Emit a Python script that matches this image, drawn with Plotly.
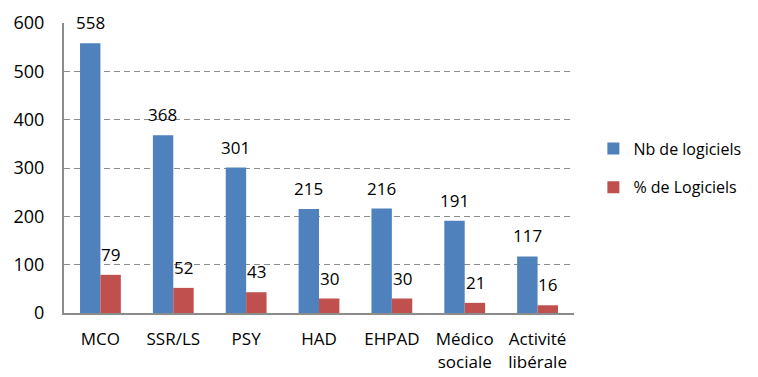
import plotly.graph_objects as go

categories = ["MCO", "SSR/LS", "PSY", "HAD", "EHPAD", "Médico<br>sociale", "Activité<br>libérale"]
nb_logiciels = [558, 368, 301, 215, 216, 191, 117]
pct_logiciels = [79, 52, 43, 30, 30, 21, 16]

FONT = "Open Sans, Noto Sans, sans-serif"
BAR_OFFSET = 10.3  # half of one bar's pixel width inside a group

fig = go.Figure()
fig.add_trace(go.Bar(
    x=categories, y=nb_logiciels, name="Nb de logiciels",
    marker=dict(color="#4F81BD", line=dict(width=0)),
    legendgroup="a",
))
fig.add_trace(go.Bar(
    x=categories, y=pct_logiciels, name="% de Logiciels",
    marker=dict(color="#C0504D", line=dict(width=0)),
    legendgroup="b",
))

# value labels sitting above each bar
for cat, v1, v2 in zip(categories, nb_logiciels, pct_logiciels):
    for val, shift in ((v1, -BAR_OFFSET), (v2, BAR_OFFSET)):
        fig.add_annotation(
            x=cat, y=val, text=str(val), showarrow=False,
            xshift=shift, yshift=7, yanchor="bottom",
            font=dict(size=17, color="#000000", family=FONT),
        )

fig.update_layout(
    width=758, height=377,
    margin=dict(l=64, r=181, t=23, b=64),
    paper_bgcolor="white", plot_bgcolor="white",
    barmode="group", bargap=0.44, bargroupgap=0,
    font=dict(family=FONT, size=17, color="#000000"),
    legend=dict(
        x=1.038, y=0.5, xanchor="left", yanchor="middle",
        font=dict(size=16, family=FONT),
        tracegroupgap=15, itemsizing="constant", itemwidth=30,
    ),
)
fig.update_yaxes(
    range=[0, 600], dtick=100,
    showgrid=True, gridcolor="#8C8C8C", griddash="6px,4px", gridwidth=1,
    showline=True, linecolor="#8C8C8C", linewidth=2,
    ticks="", ticklabelstandoff=14, automargin=False,
    tickfont=dict(size=18, family=FONT),
    zeroline=False,
)
fig.update_xaxes(
    showline=True, linecolor="#8C8C8C", linewidth=2,
    ticks="", ticklabelstandoff=10, automargin=False,
    tickfont=dict(size=17, family=FONT),
    tickangle=0,
)

fig.write_html("out.html")
